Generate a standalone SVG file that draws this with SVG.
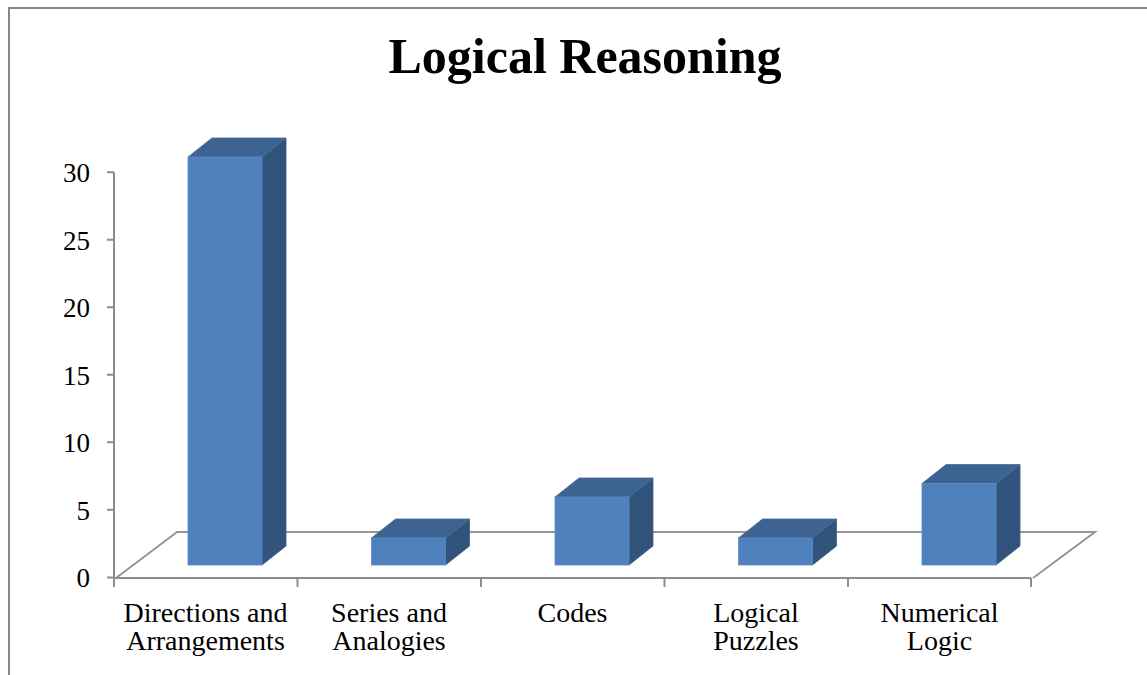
<svg xmlns="http://www.w3.org/2000/svg" width="1147" height="675" viewBox="0 0 1147 675">
<style>
.frame{fill:none;stroke:#878787;stroke-width:2}
.axis{fill:none;stroke:#8c8c8c;stroke-width:2}
.floor{fill:none;stroke:#969696;stroke-width:2}
.front{fill:#4F81BD;stroke:#5a8bc6;stroke-width:0.8}
.top{fill:#3C6391;stroke:#45699a;stroke-width:0.8}
.side{fill:#32537C;stroke:#3a5b85;stroke-width:0.8}
.title{font-family:"Liberation Serif",serif;font-weight:bold;font-size:50px;fill:#000}
.ylab{font-family:"Liberation Serif",serif;font-size:27px;fill:#000;text-anchor:end}
.xlab{font-family:"Liberation Serif",serif;font-size:28px;fill:#000;text-anchor:middle}
</style>
<rect width="1147" height="675" fill="#fff"/>
<path class="frame" d="M9,675 V8 H1147"/>
<text class="title" x="585" y="73" text-anchor="middle">Logical Reasoning</text>
<g id="floor">
<path class="floor" d="M116,578 L177,532 H1095 L1033,578"/>
</g>
<g id="axes">
<path class="axis" d="M114,172.3 V578 H1031"/>
<path class="axis" d="M107,172.3 H114 M107,239.8 H114 M107,307.3 H114 M107,374.8 H114 M107,442.3 H114 M107,509.8 H114 M107,577.5 H114"/>
<path class="axis" d="M114,578 V587 M297.5,578 V587 M481,578 V587 M664.5,578 V587 M848,578 V587 M1031,578 V587"/>
</g>
<g id="y-labels">
<text class="ylab" x="90" y="182">30</text>
<text class="ylab" x="90" y="250">25</text>
<text class="ylab" x="90" y="317">20</text>
<text class="ylab" x="90" y="385">15</text>
<text class="ylab" x="90" y="452">10</text>
<text class="ylab" x="90" y="520">5</text>
<text class="ylab" x="90" y="587">0</text>
</g>
<g id="bar-directions">
<polygon class="side" points="262,157 286,138 286,546 262,565"/>
<polygon class="top" points="188,157 212,138 286,138 262,157"/>
<rect class="front" x="188" y="157" width="74" height="408"/>
</g>
<g id="bar-series">
<polygon class="side" points="445.5,538 469.5,519 469.5,546 445.5,565"/>
<polygon class="top" points="371.5,538 395.5,519 469.5,519 445.5,538"/>
<rect class="front" x="371.5" y="538" width="74" height="27"/>
</g>
<g id="bar-codes">
<polygon class="side" points="629,497 653,478 653,546 629,565"/>
<polygon class="top" points="555,497 579,478 653,478 629,497"/>
<rect class="front" x="555" y="497" width="74" height="68"/>
</g>
<g id="bar-puzzles">
<polygon class="side" points="812.5,538 836.5,519 836.5,546 812.5,565"/>
<polygon class="top" points="738.5,538 762.5,519 836.5,519 812.5,538"/>
<rect class="front" x="738.5" y="538" width="74" height="27"/>
</g>
<g id="bar-numerical">
<polygon class="side" points="996,483.5 1020,464.5 1020,546 996,565"/>
<polygon class="top" points="922,483.5 946,464.5 1020,464.5 996,483.5"/>
<rect class="front" x="922" y="483.5" width="74" height="81.5"/>
</g>
<g id="x-labels">
<text class="xlab" x="205.5" y="622">Directions and</text>
<text class="xlab" x="205.5" y="650">Arrangements</text>
<text class="xlab" x="389" y="622">Series and</text>
<text class="xlab" x="389" y="650">Analogies</text>
<text class="xlab" x="572.5" y="622">Codes</text>
<text class="xlab" x="756" y="622">Logical</text>
<text class="xlab" x="756" y="650">Puzzles</text>
<text class="xlab" x="939.5" y="622">Numerical</text>
<text class="xlab" x="939.5" y="650">Logic</text>
</g>
</svg>
